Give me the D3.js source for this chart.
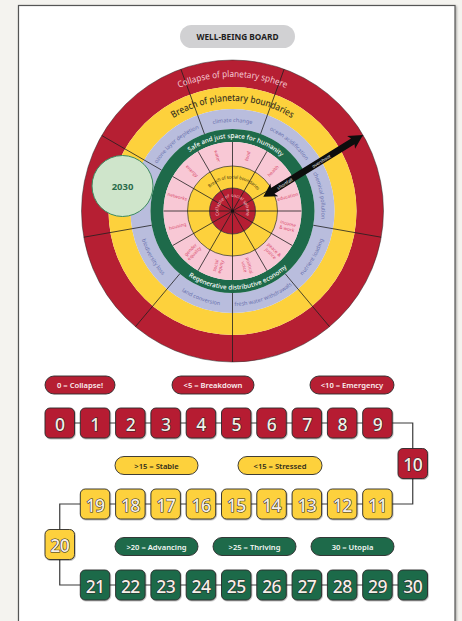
<!DOCTYPE html>
<html><head><meta charset="utf-8">
<script src="https://cdn.jsdelivr.net/npm/d3@7"></script>
<style>
html,body{margin:0;padding:0;background:#f4f3ef;}
svg{display:block;font-family:"Noto Sans",sans-serif;}
</style></head>
<body>
<svg id="c" width="462" height="621"></svg>
<script>
// ---------------- DATA ----------------
const title = "WELL-BEING BOARD";
const planetaryBoundaries = ["climate change","ocean acidification","chemical pollution","nutrient loading","fresh water withdrawals","land conversion","biodiversity loss","","ozone layer depletion"];
const socialFoundations = ["food","health","education","income\n& work","peace &\njustice","political\nvoice","social\nequity","gender\nequality","housing","networks","energy","water"];
const ringTitles = ["Collapse of planetary sphere","Breach of planetary boundaries","Safe and just space for humanity","Regenerative distributive economy","Breach of social boundaries","Collapse of social sphere"];
const arrowLabels = ["shortfall","overshoot"];
const markerLabel = "2030";
const scoreSteps = [0,1,2,3,4,5,6,7,8,9,10,11,12,13,14,15,16,17,18,19,20,21,22,23,24,25,26,27,28,29,30];
const legendLabels = ["0 = Collapse!","<5 = Breakdown","<10 = Emergency",">15 = Stable","<15 = Stressed",">20 = Advancing",">25 = Thriving","30 = Utopia"];
const legendTiers = [0,0,0,1,1,2,2,2];

// ---------------- STYLE / LAYOUT ----------------
const RED="#b61f33", YEL="#fdd13c", LAV="#b9bddd", GRN="#1e6a4a", PINK="#f8c8d5";
const tierFill=[RED,YEL,GRN], tierText=["#fbeef0","#2e2a1a","#f2f6f2"];
const cx=232.5, cy=211;
const rings=[{r0:124,r1:151,f:RED},{r0:102,r1:124,f:YEL},{r0:82,r1:102,f:LAV},{r0:69,r1:82,f:GRN},{r0:45,r1:69,f:PINK},{r0:23,r1:45,f:YEL},{r0:0,r1:23,f:RED}];
const rad=d=>d*Math.PI/180;

const svg=d3.select("#c");
const defs=svg.append("defs");
const sh=defs.append("filter").attr("id","sh").attr("x","-5%").attr("y","-5%").attr("width","110%").attr("height","110%");
sh.append("feDropShadow").attr("dx",1).attr("dy",1).attr("stdDeviation",1).attr("flood-color","#000").attr("flood-opacity",0.35);
const bsh=defs.append("filter").attr("id","bsh").attr("x","-20%").attr("y","-20%").attr("width","140%").attr("height","140%");
bsh.append("feDropShadow").attr("dx",0.6).attr("dy",0.8).attr("stdDeviation",0.6).attr("flood-color","#000").attr("flood-opacity",0.35);

// panel
svg.append("rect").attr("x",18.5).attr("y",5.5).attr("width",436.5).attr("height",700)
  .attr("fill","#fff").attr("stroke","#555").attr("stroke-width",1.2).attr("filter","url(#sh)");

// title pill
svg.append("rect").attr("x",180).attr("y",25).attr("width",115).attr("height",23).attr("rx",11.5).attr("fill","#d1d1d3");
svg.append("text").attr("x",237.5).attr("y",36.8).attr("text-anchor","middle").attr("dominant-baseline","central")
  .attr("font-size",8.3).attr("font-weight",700).attr("fill","#1e1e1e").text(title);

// ---------------- DONUT ----------------
const g=svg.append("g").attr("transform",`translate(${cx},${cy})`);
const arc=d3.arc();
g.selectAll("path.ring").data(rings).join("path").attr("class","ring")
  .attr("d",d=>arc({innerRadius:d.r0,outerRadius:d.r1,startAngle:0,endAngle:2*Math.PI}))
  .attr("fill",d=>d.f);
[151,45,23].forEach(r=>g.append("circle").attr("r",r).attr("fill","none").attr("stroke","#2a2a2a").attr("stroke-width",r===151?0.5:0.7));

// outer spokes (planetary)
const pStep=360/planetaryBoundaries.length;
const pAng=planetaryBoundaries.map((d,i)=>i*pStep);
g.selectAll("line.ps").data(pAng).join("line").attr("class","ps")
  .each(function(a){const p0=d3.pointRadial(rad(a-pStep/2),82),p1=d3.pointRadial(rad(a-pStep/2),151);
    d3.select(this).attr("x1",p0[0]).attr("y1",p0[1]).attr("x2",p1[0]).attr("y2",p1[1]);})
  .attr("stroke","#1f1f1f").attr("stroke-width",0.8);
// inner spokes (social)
const sStep=360/socialFoundations.length;
const sAng=socialFoundations.map((d,i)=>i*sStep+sStep/2);
g.selectAll("line.ss").data(sAng).join("line").attr("class","ss")
  .each(function(a){const p1=d3.pointRadial(rad(a-sStep/2),69);
    d3.select(this).attr("x1",0).attr("y1",0).attr("x2",p1[0]).attr("y2",p1[1]);})
  .attr("stroke","#1f1f1f").attr("stroke-width",0.8);
g.append("circle").attr("r",1.6).attr("fill","#111");

// arc text helper
let pid=0;
function arcText(txt,r,center,half,cw,size,fill,weight,len){
  const a0=center-half,a1=center+half;
  const p0=d3.pointRadial(rad(a0),r),p1=d3.pointRadial(rad(a1),r);
  const large=(2*half)>180?1:0;
  const d=cw?`M${p0[0]},${p0[1]}A${r},${r} 0 ${large} 1 ${p1[0]},${p1[1]}`
            :`M${p1[0]},${p1[1]}A${r},${r} 0 ${large} 0 ${p0[0]},${p0[1]}`;
  const id="ap"+(pid++);
  defs.append("path").attr("id",id).attr("d",d).attr("transform",`translate(${cx},${cy})`);
  const t=svg.append("text").attr("font-size",size).attr("fill",fill).attr("font-weight",weight||400);
  const tp=t.append("textPath").attr("href","#"+id).attr("startOffset","50%").attr("text-anchor","middle").text(txt);
  if(len) tp.attr("textLength",len).attr("lengthAdjust","spacingAndGlyphs");
}
arcText(ringTitles[0],134,0,90,true,9,"#f5c9d3",400,47*Math.PI/180*134);
arcText(ringTitles[1],110,0,90,true,9.5,"#3b3420",500,65*Math.PI/180*110);
arcText(ringTitles[2],73,3,90,true,6.4,"#ffffff",500,78*Math.PI/180*73);
arcText(ringTitles[3],78.5,175,90,false,6.4,"#ffffff",500,78*Math.PI/180*78.5);
arcText(ringTitles[4],32.5,3,90,true,4.6,"#3a3010",400,95*Math.PI/180*32.5);
arcText(ringTitles[5],14,0,170,true,4.6,"#f5c2cd",400,216*Math.PI/180*14);

// planetary labels
planetaryBoundaries.forEach((lab,i)=>{
  if(!lab) return;
  const c=pAng[i];
  const cw=(c<=90||c>=270);
  arcText(lab,cw?89:95,c,30,cw,5.5,"#6a72ae",400);
});

// social labels
const sg=g.selectAll("g.sl").data(socialFoundations).join("g").attr("class","sl")
  .attr("transform",(d,i)=>{const a=sAng[i];const p=d3.pointRadial(rad(a),57);
     const rot=a<180?a-90:a-270; return `translate(${p[0]},${p[1]}) rotate(${rot})`;});
sg.each(function(d){
  const lines=d.split("\n");
  const t=d3.select(this).append("text").attr("text-anchor","middle").attr("font-size",4.6).attr("fill","#d8486c");
  lines.forEach((l,j)=>t.append("tspan").attr("x",0).attr("y",(j-(lines.length-1)/2)*5.2).attr("dominant-baseline","central").text(l));
});

// arrow
const aStart=d3.pointRadial(rad(65),34), aEnd=d3.pointRadial(rad(59.8),151);
const dx=aEnd[0]-aStart[0], dy=aEnd[1]-aStart[1], L=Math.hypot(dx,dy), ang=Math.atan2(dy,dx)*180/Math.PI;
const ag=g.append("g").attr("transform",`translate(${aStart[0]},${aStart[1]}) rotate(${ang})`);
ag.append("path").attr("fill","#0d0d0d")
  .attr("d",`M0,0L13,-7.5L11,-3.3L${L-12},-3.3L${L-14},-7.5L${L},0L${L-14},7.5L${L-12},3.3L11,3.3L13,7.5Z`);
[[arrowLabels[0],25],[arrowLabels[1],68]].forEach(([t,x])=>
  ag.append("text").attr("x",x).attr("y",0).attr("text-anchor","middle").attr("dominant-baseline","central")
    .attr("font-size",4.4).attr("fill","#fff").text(t));

// 2030 marker
svg.append("circle").attr("cx",122.5).attr("cy",186).attr("r",30.5).attr("fill","#cfe5cb").attr("stroke","#3d8a5f").attr("stroke-width",1);
svg.append("text").attr("x",122.5).attr("y",186.5).attr("text-anchor","middle").attr("dominant-baseline","central")
  .attr("font-size",9.5).attr("font-weight",700).attr("fill","#2b6c4c").text(markerLabel);

// ---------------- SCORE TRACK ----------------
const colX=d3.scaleLinear().domain([0,10]).range([45,398]);
const levY=d3.scaleLinear().domain([0,4]).range([408,570]);
const BW=29.5,BH=30;
function pos(v){
  let lev,col;
  if(v<=9){lev=0;col=v;} else if(v===10){lev=1;col=10;}
  else if(v<=19){lev=2;col=20-v;} else if(v===20){lev=3;col=0;}
  else {lev=4;col=v-20;}
  return {lev,col,x:colX(col),y:levY(lev),cxp:colX(col)+BW/2,cyp:levY(lev)+BH/2};
}
const tier=v=>v<=10?0:(v<=20?1:2);
let dPath="";
scoreSteps.forEach((v,i)=>{
  if(i===0) return;
  const a=pos(scoreSteps[i-1]), b=pos(v);
  if(a.lev===b.lev) dPath+=`M${a.cxp},${a.cyp}H${b.cxp}`;
  else if(a.lev%2===1) dPath+=`M${a.cxp},${a.cyp}V${b.cyp}H${b.cxp}`;
  else dPath+=`M${a.cxp},${a.cyp}H${b.cxp}V${b.cyp}`;
});
svg.append("path").attr("d",dPath).attr("fill","none").attr("stroke","#3a3a3a").attr("stroke-width",1.2);
const bx=svg.selectAll("g.box").data(scoreSteps).join("g").attr("class","box")
  .attr("transform",v=>{const p=pos(v);return `translate(${p.x},${p.y})`;});
bx.append("rect").attr("width",BW).attr("height",BH).attr("rx",5).attr("fill",v=>tierFill[tier(v)])
  .attr("stroke","#2a2a2a").attr("stroke-width",0.9).attr("filter","url(#bsh)");
bx.append("text").attr("x",BW/2).attr("y",BH/2+0.5).attr("text-anchor","middle").attr("dominant-baseline","central")
  .attr("font-size",17.5).attr("font-weight",500).attr("fill","#f6efe8").attr("stroke","#262626").attr("stroke-width",1.1)
  .attr("paint-order","stroke").attr("letter-spacing",-0.6).text(v=>v);

// legend pills
const legPos=[[80,385,70],[213,385,82],[352,385,84],[156.5,465.5,83],[280,465.5,84],[156.5,546.5,83],[254.5,546.5,83],[352.5,546.5,83]];
const lg=svg.selectAll("g.leg").data(legendLabels).join("g").attr("class","leg")
  .attr("transform",(d,i)=>`translate(${legPos[i][0]},${legPos[i][1]})`);
lg.append("rect").attr("x",(d,i)=>-legPos[i][2]/2).attr("y",-9).attr("width",(d,i)=>legPos[i][2]).attr("height",18).attr("rx",9)
  .attr("fill",(d,i)=>tierFill[legendTiers[i]]).attr("stroke","#2a2a2a").attr("stroke-width",0.9);
lg.append("text").attr("text-anchor","middle").attr("dominant-baseline","central").attr("y",0.3)
  .attr("font-size",7.6).attr("font-weight",600).attr("fill",(d,i)=>tierText[legendTiers[i]]).text(d=>d);
</script>
</body></html>
